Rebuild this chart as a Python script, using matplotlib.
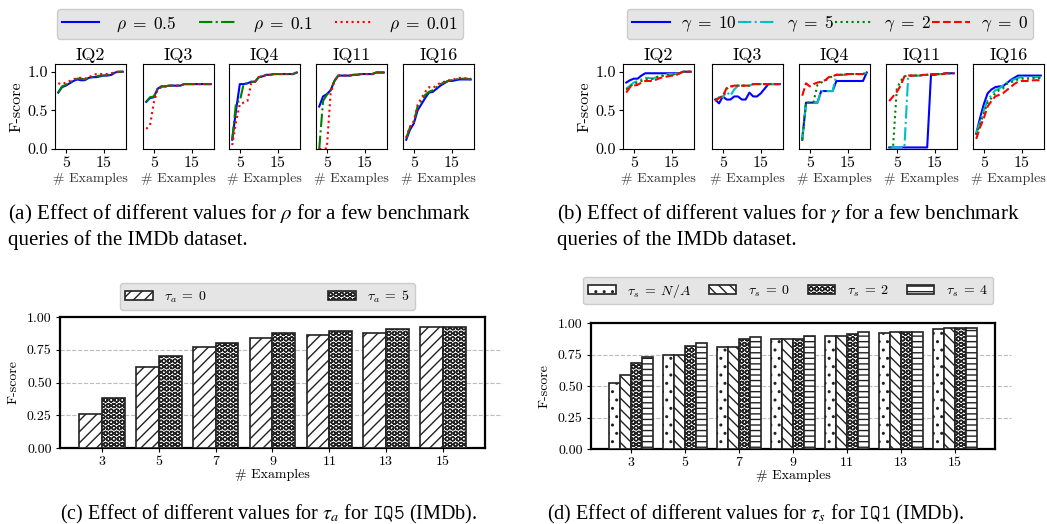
import numpy as np
import matplotlib
matplotlib.use("Agg")
import matplotlib.pyplot as plt

plt.rcParams['font.family'] = 'cmr10'
plt.rcParams['mathtext.fontset'] = 'cm'
plt.rcParams['axes.formatter.use_mathtext'] = True
plt.rcParams['hatch.linewidth'] = 1.0

# ---------------- data ----------------
examples = np.arange(3, 21)
queries = ['IQ2', 'IQ3', 'IQ4', 'IQ11', 'IQ16']

rho_05 = {
    'IQ2': [0.73, 0.80, 0.82, 0.85, 0.88, 0.90, 0.89, 0.89, 0.92, 0.93, 0.93, 0.94, 0.95, 0.95, 0.96, 0.99, 1.00, 1.00],
    'IQ3': [0.61, 0.66, 0.67, 0.78, 0.81, 0.81, 0.82, 0.82, 0.82, 0.82, 0.84, 0.84, 0.84, 0.84, 0.84, 0.84, 0.84, 0.84],
    'IQ4': [0.12, 0.50, 0.84, 0.84, 0.85, 0.87, 0.87, 0.93, 0.94, 0.96, 0.96, 0.97, 0.97, 0.97, 0.97, 0.97, 0.97, 0.99],
    'IQ11': [0.55, 0.68, 0.71, 0.76, 0.88, 0.95, 0.95, 0.95, 0.95, 0.96, 0.96, 0.97, 0.97, 0.97, 0.97, 0.99, 0.99, 0.99],
    'IQ16': [0.12, 0.25, 0.33, 0.50, 0.58, 0.66, 0.73, 0.74, 0.78, 0.82, 0.85, 0.88, 0.88, 0.89, 0.90, 0.90, 0.90, 0.90],
}
rho_01 = {
    'IQ2': [0.73, 0.81, 0.83, 0.86, 0.89, 0.91, 0.91, 0.90, 0.92, 0.93, 0.94, 0.95, 0.95, 0.96, 0.96, 0.99, 1.00, 1.00],
    'IQ3': [0.61, 0.67, 0.68, 0.78, 0.81, 0.81, 0.82, 0.82, 0.82, 0.82, 0.84, 0.84, 0.84, 0.84, 0.84, 0.84, 0.84, 0.84],
    'IQ4': [0.12, 0.60, 0.62, 0.84, 0.85, 0.87, 0.87, 0.93, 0.94, 0.96, 0.96, 0.97, 0.97, 0.97, 0.97, 0.97, 0.97, 0.99],
    'IQ11': [0.00, 0.62, 0.70, 0.76, 0.88, 0.95, 0.95, 0.95, 0.95, 0.96, 0.96, 0.97, 0.97, 0.97, 0.97, 0.99, 0.99, 0.99],
    'IQ16': [0.14, 0.28, 0.35, 0.55, 0.62, 0.70, 0.74, 0.76, 0.80, 0.84, 0.86, 0.88, 0.89, 0.90, 0.91, 0.91, 0.91, 0.90],
}
rho_001 = {
    'IQ2': [0.85, 0.84, 0.86, 0.88, 0.90, 0.92, 0.92, 0.91, 0.93, 0.95, 0.97, 0.97, 0.97, 0.97, 0.98, 1.00, 1.00, 1.00],
    'IQ3': [0.26, 0.31, 0.60, 0.77, 0.80, 0.81, 0.82, 0.82, 0.82, 0.82, 0.84, 0.84, 0.84, 0.84, 0.84, 0.84, 0.84, 0.84],
    'IQ4': [0.05, 0.35, 0.58, 0.60, 0.62, 0.85, 0.87, 0.93, 0.94, 0.96, 0.96, 0.97, 0.97, 0.97, 0.97, 0.97, 0.97, 0.99],
    'IQ11': [0.00, 0.00, 0.01, 0.72, 0.88, 0.95, 0.95, 0.95, 0.95, 0.96, 0.96, 0.97, 0.97, 0.97, 0.97, 0.99, 0.99, 0.99],
    'IQ16': [0.15, 0.29, 0.36, 0.57, 0.66, 0.74, 0.80, 0.79, 0.82, 0.86, 0.87, 0.89, 0.89, 0.91, 0.92, 0.92, 0.91, 0.91],
}

gamma_10 = {
    'IQ2': [0.86, 0.89, 0.91, 0.91, 0.95, 0.98, 0.98, 0.98, 0.98, 0.98, 0.98, 0.98, 0.98, 0.98, 0.98, 1.00, 1.00, 1.00],
    'IQ3': [0.64, 0.59, 0.68, 0.64, 0.64, 0.68, 0.68, 0.64, 0.64, 0.73, 0.68, 0.68, 0.72, 0.78, 0.84, 0.84, 0.84, 0.84],
    'IQ4': [0.12, 0.60, 0.60, 0.60, 0.60, 0.75, 0.75, 0.75, 0.75, 0.88, 0.88, 0.88, 0.88, 0.88, 0.88, 0.88, 0.88, 0.99],
    'IQ11': [0.02, 0.02, 0.02, 0.02, 0.02, 0.02, 0.02, 0.02, 0.02, 0.02, 0.02, 0.96, 0.96, 0.97, 0.97, 0.98, 0.98, 0.98],
    'IQ16': [0.20, 0.40, 0.58, 0.72, 0.77, 0.80, 0.81, 0.81, 0.85, 0.89, 0.92, 0.95, 0.95, 0.95, 0.95, 0.95, 0.95, 0.95],
}
gamma_5 = {
    'IQ2': [0.78, 0.82, 0.86, 0.88, 0.90, 0.92, 0.92, 0.91, 0.93, 0.95, 0.96, 0.97, 0.97, 0.97, 0.98, 1.00, 1.00, 1.00],
    'IQ3': [0.63, 0.67, 0.67, 0.74, 0.69, 0.77, 0.82, 0.82, 0.82, 0.82, 0.84, 0.84, 0.84, 0.84, 0.84, 0.84, 0.84, 0.84],
    'IQ4': [0.12, 0.60, 0.60, 0.60, 0.60, 0.75, 0.75, 0.75, 0.75, 0.96, 0.96, 0.96, 0.97, 0.97, 0.97, 0.97, 0.97, 0.99],
    'IQ11': [0.02, 0.02, 0.02, 0.02, 0.02, 0.95, 0.95, 0.95, 0.95, 0.96, 0.96, 0.97, 0.97, 0.97, 0.97, 0.98, 0.98, 0.98],
    'IQ16': [0.20, 0.35, 0.50, 0.63, 0.70, 0.76, 0.78, 0.82, 0.86, 0.88, 0.90, 0.92, 0.93, 0.93, 0.93, 0.93, 0.93, 0.93],
}
gamma_2 = {
    'IQ2': [0.77, 0.81, 0.84, 0.86, 0.88, 0.90, 0.90, 0.91, 0.93, 0.94, 0.95, 0.96, 0.96, 0.97, 0.98, 1.00, 1.00, 1.00],
    'IQ3': [0.64, 0.67, 0.68, 0.78, 0.80, 0.82, 0.82, 0.82, 0.82, 0.82, 0.84, 0.84, 0.84, 0.84, 0.84, 0.84, 0.84, 0.84],
    'IQ4': [0.12, 0.60, 0.60, 0.61, 0.83, 0.86, 0.88, 0.92, 0.94, 0.96, 0.96, 0.96, 0.97, 0.97, 0.97, 0.97, 0.97, 0.99],
    'IQ11': [0.02, 0.02, 0.78, 0.88, 0.94, 0.95, 0.95, 0.95, 0.95, 0.96, 0.96, 0.97, 0.97, 0.97, 0.97, 0.98, 0.98, 0.98],
    'IQ16': [0.18, 0.32, 0.46, 0.60, 0.66, 0.72, 0.76, 0.78, 0.84, 0.86, 0.88, 0.90, 0.91, 0.91, 0.91, 0.92, 0.92, 0.92],
}
gamma_0 = {
    'IQ2': [0.73, 0.80, 0.82, 0.83, 0.86, 0.88, 0.88, 0.88, 0.90, 0.92, 0.93, 0.94, 0.95, 0.95, 0.98, 1.00, 1.00, 1.00],
    'IQ3': [0.62, 0.66, 0.68, 0.79, 0.81, 0.82, 0.82, 0.82, 0.82, 0.82, 0.84, 0.84, 0.84, 0.84, 0.84, 0.84, 0.84, 0.84],
    'IQ4': [0.69, 0.85, 0.81, 0.84, 0.86, 0.87, 0.89, 0.93, 0.94, 0.96, 0.96, 0.96, 0.97, 0.97, 0.97, 0.97, 0.97, 0.99],
    'IQ11': [0.62, 0.68, 0.74, 0.82, 0.94, 0.95, 0.95, 0.95, 0.95, 0.96, 0.96, 0.97, 0.97, 0.97, 0.97, 0.98, 0.98, 0.98],
    'IQ16': [0.13, 0.28, 0.40, 0.55, 0.62, 0.68, 0.70, 0.72, 0.76, 0.80, 0.84, 0.87, 0.88, 0.88, 0.88, 0.89, 0.89, 0.89],
}

bar_groups = ['3', '5', '7', '9', '11', '13', '15']
tau_a0 = [0.26, 0.62, 0.77, 0.84, 0.86, 0.88, 0.92]
tau_a5 = [0.38, 0.70, 0.80, 0.88, 0.89, 0.91, 0.92]

tau_s_na = [0.52, 0.75, 0.81, 0.87, 0.90, 0.92, 0.95]
tau_s0 = [0.59, 0.75, 0.81, 0.87, 0.90, 0.93, 0.96]
tau_s2 = [0.68, 0.82, 0.87, 0.87, 0.91, 0.93, 0.96]
tau_s4 = [0.73, 0.84, 0.89, 0.90, 0.93, 0.93, 0.96]

# ---------------- figure ----------------
W, H = 1047, 524
fig = plt.figure(figsize=(W / 100, H / 100), dpi=100)


def box(x0, y0, x1, y1):
    # pixel box (top-left origin) -> figure fraction rect
    return [x0 / W, 1 - y1 / H, (x1 - x0) / W, (y1 - y0) / H]


LEG_FACE = '#e5e5e5'
LEG_EDGE = '#cccccc'


def small_row(lefts, series, styles):
    handles = None
    for i, (q, lx) in enumerate(zip(queries, lefts)):
        ax = fig.add_axes(box(lx, 64, lx + 71, 149))
        hs = []
        for s, (c, ls) in zip(series, styles):
            h, = ax.plot(examples, s[q], color=c, ls=ls, lw=1.5)
            hs.append(h)
        handles = hs
        ax.set_ylim(0, 1.1)
        ax.set_xticks([5, 15])
        ax.set_xticklabels(['5', '15'])
        ax.set_title(q, fontsize=13, pad=3)
        ax.set_xlabel('# Examples', fontsize=10, labelpad=2, color='#333333')
        ax.tick_params(labelsize=11.5, length=3, pad=2)
        if i == 0:
            ax.set_yticks([0, 0.5, 1.0])
            ax.set_yticklabels(['0.0', '0.5', '1.0'])
            ax.set_ylabel('F-score', fontsize=11.5, labelpad=3)
        else:
            ax.set_yticks([])
    return handles


# (a)
hs = small_row([55, 143, 229, 316, 403], [rho_05, rho_01, rho_001],
               [('b', '-'), ('g', '-.'), ('r', ':')])
fig.legend(hs, [r'$\rho\;=\;0.5$', r'$\rho\;=\;0.1$', r'$\rho\;=\;0.01$'],
           loc='center', bbox_to_anchor=box(57, 10, 463, 38), mode='expand',
           ncol=3, fontsize=12.5, handlelength=2.1, handletextpad=1.0,
           facecolor=LEG_FACE, edgecolor=LEG_EDGE, framealpha=1,
           borderaxespad=0, borderpad=0.3)

# (b)
hs = small_row([623, 712, 799, 886, 973], [gamma_10, gamma_5, gamma_2, gamma_0],
               [('b', '-'), ('c', '-.'), ('g', ':'), ('r', '--')])
fig.legend(hs, [r'$\gamma\;=\;10$', r'$\gamma\;=\;5$', r'$\gamma\;=\;2$', r'$\gamma\;=\;0$'],
           loc='center', bbox_to_anchor=box(627, 10, 1033, 38), mode='expand',
           ncol=4, fontsize=12.5, handlelength=2.2, handletextpad=0.6,
           facecolor=LEG_FACE, edgecolor=LEG_EDGE, framealpha=1,
           borderaxespad=0, borderpad=0.3, columnspacing=0.4)


def bar_panel(rect, series, hatches, labels, leg_rect):
    ax = fig.add_axes(rect)
    n = len(series)
    w = 0.8 / n
    pos = np.arange(len(bar_groups))
    bars = []
    for k, (vals, hat) in enumerate(zip(series, hatches)):
        b = ax.bar(pos + (k - (n - 1) / 2) * w, vals, w, color='white',
                   edgecolor='#222222', hatch=hat, lw=1.2, zorder=3)
        bars.append(b)
    ax.set_ylim(0, 1)
    ax.set_yticks([0, 0.25, 0.5, 0.75, 1.0])
    ax.set_yticklabels(['0.00', '0.25', '0.50', '0.75', '1.00'])
    for gy in [0.25, 0.5, 0.75]:
        ax.axhline(gy, xmin=0, xmax=1.04, color='#bbbbbb', ls='--', lw=0.8,
                   clip_on=False, zorder=0)
    ax.set_xticks(pos)
    ax.set_xticklabels(bar_groups)
    ax.tick_params(labelsize=10, length=3, pad=3)
    ax.set_xlabel('# Examples', fontsize=10, labelpad=0)
    ax.set_ylabel('F-score', fontsize=10, labelpad=5)
    for sp in ax.spines.values():
        sp.set_linewidth(1.6)
    fig.legend(bars, labels, loc='center', bbox_to_anchor=leg_rect, mode='expand',
               ncol=n, fontsize=10, handlelength=2.0, handleheight=0.6,
               facecolor=LEG_FACE, edgecolor=LEG_EDGE, framealpha=1,
               borderaxespad=0, borderpad=0.35)


# (c)
bar_panel(box(60, 317, 485, 448), [tau_a0, tau_a5], ['///', 'OOO'],
          [r'$\tau_a\;=\;0$', r'$\tau_a\;=\;5$'], box(120, 285, 415, 308))

# (d)
bar_panel(box(591, 323, 995, 449), [tau_s_na, tau_s0, tau_s2, tau_s4],
          ['..', '\\\\\\', 'OOO', '---'],
          [r'$\tau_s\;=\;N/A$', r'$\tau_s\;=\;0$', r'$\tau_s\;=\;2$', r'$\tau_s\;=\;4$'],
          box(583, 278, 993, 303))

# captions
cap = dict(fontsize=15, family='Liberation Serif', math_fontfamily='stix',
           va='center', ha='left')
fig.text(8 / W, 1 - 214 / H, r'(a) Effect of different values for $\rho$ for a few benchmark', **cap)
fig.text(8 / W, 1 - 240 / H, 'queries of the IMDb dataset.', **cap)
fig.text(557 / W, 1 - 214 / H, r'(b) Effect of different values for $\gamma$ for a few benchmark', **cap)
fig.text(557 / W, 1 - 240 / H, 'queries of the IMDb dataset.', **cap)
cap['fontsize'] = 14.5
fig.text(60 / W, 1 - 514 / H, r'(c) Effect of different values for $\tau_a$ for $\mathtt{IQ5}$ (IMDb).', **cap)
fig.text(547 / W, 1 - 514 / H, r'(d) Effect of different values for $\tau_s$ for $\mathtt{IQ1}$ (IMDb).', **cap)

fig.savefig('out.png', dpi=100)
